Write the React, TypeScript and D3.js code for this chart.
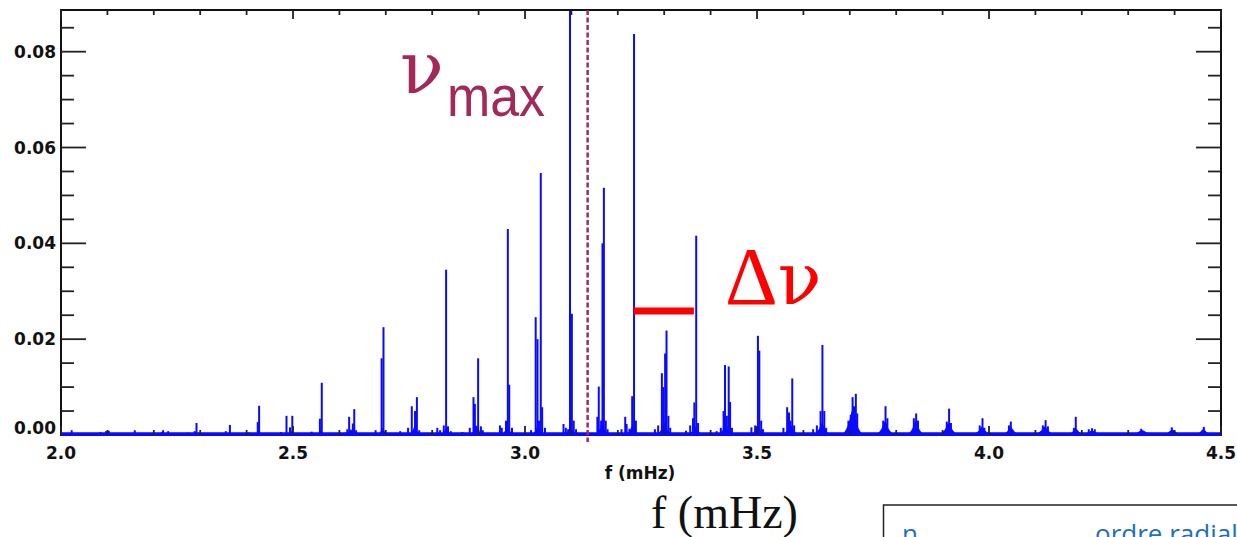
import React from "react";
import * as d3 from "d3";

// ---- data ----
const xTickLabels = ["2.0", "2.5", "3.0", "3.5", "4.0", "4.5"];
const yTickLabels = ["0.00", "0.02", "0.04", "0.06", "0.08"];

// individual peaks of the power spectrum (mHz, power)
const peakFreq = [
  2.023, 2.085, 2.097, 2.103, 2.131, 2.159, 2.217, 2.22, 2.231,
  2.273, 2.288, 2.292, 2.355, 2.364, 2.405, 2.424, 2.427,
  2.474, 2.486, 2.4935, 2.4985, 2.54, 2.558, 2.562,
  2.613, 2.617, 2.621, 2.629, 2.632, 2.636,
  2.678, 2.691, 2.695, 2.731, 2.748, 2.756, 2.763, 2.767, 2.772,
  2.811, 2.817, 2.825, 2.83, 2.834, 2.84, 2.865,
  2.881, 2.889, 2.892, 2.899, 2.905, 2.909,
  2.946, 2.95, 2.959, 2.963, 2.966, 2.972,
  3.013, 3.023, 3.027, 3.03, 3.034, 3.037, 3.043,
  3.083, 3.088, 3.093, 3.097, 3.101, 3.105, 3.11,
  3.156, 3.159, 3.164, 3.167, 3.17, 3.174, 3.178,
  3.208, 3.216, 3.219, 3.225, 3.231, 3.235, 3.239,
  3.28, 3.287, 3.295, 3.298, 3.302, 3.305, 3.309, 3.313,
  3.347, 3.356, 3.362, 3.365, 3.369, 3.373,
  3.413, 3.422, 3.428, 3.431, 3.435, 3.439, 3.442, 3.446,
  3.488, 3.496, 3.502, 3.505, 3.509, 3.513,
  3.557, 3.565, 3.569, 3.572, 3.576, 3.58,
  3.621, 3.629, 3.637, 3.641, 3.645, 3.649,
  3.697, 3.702, 3.706, 3.709, 3.713, 3.716,
  3.772, 3.777, 3.781, 3.838, 3.843, 3.847,
  3.909, 3.914, 3.918, 3.98, 3.986, 3.99,
  4.043, 4.047, 4.116, 4.122, 4.127, 4.183, 4.187,
  4.215, 4.222, 4.228, 4.328, 4.394, 4.463,
];
const peakAmp = [
  0.001, 0.0006, 0.0008, 0.0009, 0.0004, 0.001, 0.0006, 0.001, 0.0008,
  0.0005, 0.0008, 0.0025, 0.0008, 0.0021, 0.0005, 0.0027, 0.0061,
  0.0006, 0.004, 0.0016, 0.004, 0.0007, 0.0034, 0.0109,
  0.0005, 0.0012, 0.0038, 0.0024, 0.0054, 0.001,
  0.001, 0.016, 0.0225, 0.0008, 0.0015, 0.006, 0.005, 0.0079, 0.001,
  0.0015, 0.001, 0.002, 0.0345, 0.0018, 0.0008, 0.0006,
  0.0015, 0.0079, 0.0065, 0.016, 0.0018, 0.001,
  0.002, 0.0015, 0.003, 0.043, 0.0105, 0.0015,
  0.001, 0.0246, 0.02, 0.003, 0.0547, 0.0058, 0.0015,
  0.0023, 0.0015, 0.0012, 0.092, 0.0253, 0.003, 0.0012,
  0.0038, 0.0101, 0.003, 0.04, 0.0516, 0.003, 0.0012,
  0.0012, 0.0038, 0.0023, 0.0013, 0.0081, 0.0837, 0.003,
  0.0012, 0.002, 0.0129, 0.01, 0.017, 0.0218, 0.004, 0.0015,
  0.0009, 0.002, 0.0035, 0.0068, 0.0416, 0.0025,
  0.0008, 0.0015, 0.005, 0.0146, 0.004, 0.0143, 0.0069, 0.0015,
  0.0016, 0.002, 0.0207, 0.0176, 0.003, 0.0012,
  0.0015, 0.0058, 0.0047, 0.003, 0.0118, 0.002,
  0.0012, 0.002, 0.005, 0.0188, 0.005, 0.0015,
  0.003, 0.0042, 0.0079, 0.006, 0.0086, 0.0045,
  0.003, 0.006, 0.0035, 0.0035, 0.0045, 0.003,
  0.0028, 0.0055, 0.0025, 0.002, 0.0035, 0.0015,
  0.002, 0.0028, 0.002, 0.0031, 0.0018, 0.0015, 0.0038,
  0.0012, 0.0014, 0.0012, 0.0013, 0.0016, 0.0017,
];

// broad mode envelopes (centre mHz, height, half-width mHz)
const humpFreq = [
  2.096, 2.29, 2.427, 2.495, 2.56, 2.625, 2.693, 2.762, 2.83, 2.895, 2.962, 3.028,
  3.098, 3.166, 3.232, 3.3, 3.367, 3.432, 3.502, 3.572, 3.64,
  3.706, 3.776, 3.842, 3.913, 3.985, 4.047, 4.12, 4.187, 4.222, 4.33, 4.395, 4.462,
];
const humpAmp = [
  0.0006, 0.0006, 0.0008, 0.001, 0.001, 0.0012, 0.0015, 0.0018, 0.0015, 0.002, 0.0018, 0.002,
  0.0018, 0.0022, 0.002, 0.0025, 0.0018, 0.0022, 0.002, 0.0022, 0.0025,
  0.0052, 0.0028, 0.003, 0.0025, 0.0018, 0.0016, 0.0018, 0.0013, 0.0009, 0.001, 0.0011, 0.0012,
];
const humpWidth = [
  0.008, 0.008, 0.008, 0.01, 0.01, 0.01, 0.012, 0.012, 0.012, 0.014, 0.014, 0.014,
  0.014, 0.016, 0.016, 0.016, 0.016, 0.016, 0.016, 0.018, 0.018,
  0.022, 0.02, 0.018, 0.02, 0.02, 0.02, 0.022, 0.02, 0.03, 0.03, 0.025, 0.02,
];

const nuMax = 3.135;
const dnuStart = 3.234;
const dnuEnd = 3.364;
const dnuLevel = 0.0259;

// ---- layout ----
const W = 1237;
const H = 537;
const L = 61, R = 1221, T = 10, B = 435;

export default function App() {
  const x = d3.scaleLinear().domain([2.0, 4.5]).range([L, R]);
  const y = d3.scaleLinear().domain([0, 0.0887]).range([B, T]);

  const xMinor = d3.range(0, 26).map((i) => +(2 + i * 0.1).toFixed(2));
  const yMinor = d3.range(0, 18).map((i) => +(i * 0.005).toFixed(3));
  const isMajorX = (v: number) => Math.abs(v * 2 - Math.round(v * 2)) < 1e-6;
  const isMajorY = (v: number) => Math.abs(v / 0.02 - Math.round(v / 0.02)) < 1e-6;

  const hump = d3
    .area<[number, number]>()
    .x((d) => x(d[0]))
    .y0(y(0))
    .y1((d) => y(d[1]))
    .curve(d3.curveMonotoneX);

  const blue = "#0a0aff";
  const maroon = "#a2295a";

  const tickFont = "'DejaVu Sans', sans-serif";

  return (
    <svg
      width={W}
      height={H}
      style={{ position: "absolute", left: 0, top: 0, background: "#fff" }}
    >
      <defs>
        <clipPath id="plot">
          <rect x={L} y={T} width={R - L} height={B - T + 2} />
        </clipPath>
      </defs>

      {/* spectrum */}
      <g clipPath="url(#plot)">
        {humpFreq.map((c, i) => {
          const w = humpWidth[i];
          const h = humpAmp[i];
          const pts: [number, number][] = [
            [c - w, 0],
            [c - w * 0.4, h * 0.45],
            [c, h],
            [c + w * 0.4, h * 0.45],
            [c + w, 0],
          ];
          return <path key={"h" + i} d={hump(pts) || ""} fill={blue} />;
        })}
        {peakFreq.map((f, i) => (
          <line
            key={"p" + i}
            x1={x(f)}
            x2={x(f)}
            y1={y(0)}
            y2={y(peakAmp[i])}
            stroke={blue}
            strokeWidth={2}
          />
        ))}
        <line x1={L} x2={R} y1={y(0) - 1} y2={y(0) - 1} stroke={blue} strokeWidth={3.5} />
      </g>

      {/* frame */}
      <rect x={L} y={T} width={R - L} height={B - T} fill="none" stroke="#111" strokeWidth={2} />
      <line x1={L} x2={R} y1={B} y2={B} stroke={blue} strokeWidth={2} />

      {/* x ticks top & bottom */}
      {xMinor.map((v, i) => {
        const len = isMajorX(v) ? 9 : 5;
        return (
          <g key={"xt" + i} stroke="#222" strokeWidth={1.8}>
            <line x1={x(v)} x2={x(v)} y1={T} y2={T + len} />
            <line x1={x(v)} x2={x(v)} y1={B} y2={B - len} />
          </g>
        );
      })}
      {/* y ticks left & right */}
      {yMinor.map((v, i) => {
        const len = isMajorY(v) ? 25 : 13;
        if (v === 0) return null;
        return (
          <g key={"yt" + i} stroke="#222" strokeWidth={1.8}>
            <line x1={L} x2={L + len} y1={y(v)} y2={y(v)} />
            <line x1={R} x2={R - len} y1={y(v)} y2={y(v)} />
          </g>
        );
      })}

      {/* tick labels */}
      {yTickLabels.map((t, i) => {
        const v = +t;
        const yy = v === 0 ? B - 7.5 : y(v);
        return (
          <text
            key={"yl" + i}
            x={56}
            y={yy}
            dy="0.36em"
            textAnchor="end"
            fontFamily={tickFont}
            fontWeight="bold"
            fontSize={17}
            fill="#111"
          >
            {t}
          </text>
        );
      })}
      {xTickLabels.map((t, i) => (
        <text
          key={"xl" + i}
          x={x(+t)}
          y={459}
          textAnchor="middle"
          fontFamily={tickFont}
          fontWeight="bold"
          fontSize={17}
          fill="#111"
        >
          {t}
        </text>
      ))}
      <text
        x={(L + R) / 2 - 1}
        y={479}
        textAnchor="middle"
        fontFamily={tickFont}
        fontWeight="bold"
        fontSize={17}
        fill="#111"
      >
        f (mHz)
      </text>

      {/* nu max marker */}
      <line
        x1={x(nuMax)}
        x2={x(nuMax)}
        y1={T}
        y2={B + 7}
        stroke={maroon}
        strokeWidth={2.5}
        strokeDasharray="5,2.5"
      />
      <text x={400} y={93} fontFamily="'DejaVu Serif', serif" fontSize={72} fill={maroon}>
        ν
      </text>
      <text
        x={447}
        y={116}
        fontFamily="'Liberation Sans', Arial, sans-serif"
        fontSize={58}
        fill={maroon}
        textLength={98}
        lengthAdjust="spacingAndGlyphs"
      >
        max
      </text>

      {/* delta nu */}
      <line
        x1={x(dnuStart)}
        x2={x(dnuEnd)}
        y1={y(dnuLevel)}
        y2={y(dnuLevel)}
        stroke="#ff0000"
        strokeWidth={7}
      />
      <text x={725} y={304} fontSize={82} fill="#ff0000">
        <tspan fontFamily="'Liberation Serif', serif">Δ</tspan>
        <tspan fontFamily="'DejaVu Serif', serif" fontSize={72}>ν</tspan>
      </text>

      {/* big axis title */}
      <text x={651} y={528} fontFamily="'Liberation Serif', serif" fontSize={46} fill="#111">
        f (mHz)
      </text>

      {/* table box at bottom right */}
      <rect x={883.5} y={505} width={400} height={100} fill="#fff" stroke="#222" strokeWidth={1.5} />
      <text x={902} y={543} fontFamily="'Open Sans', 'Noto Sans', sans-serif" fontSize={26} fill="#1f6fbf">
        n
      </text>
      <text x={1095} y={543} fontFamily="'Open Sans', 'Noto Sans', sans-serif" fontSize={26} fill="#1f6fbf">
        ordre radial
      </text>
    </svg>
  );
}
